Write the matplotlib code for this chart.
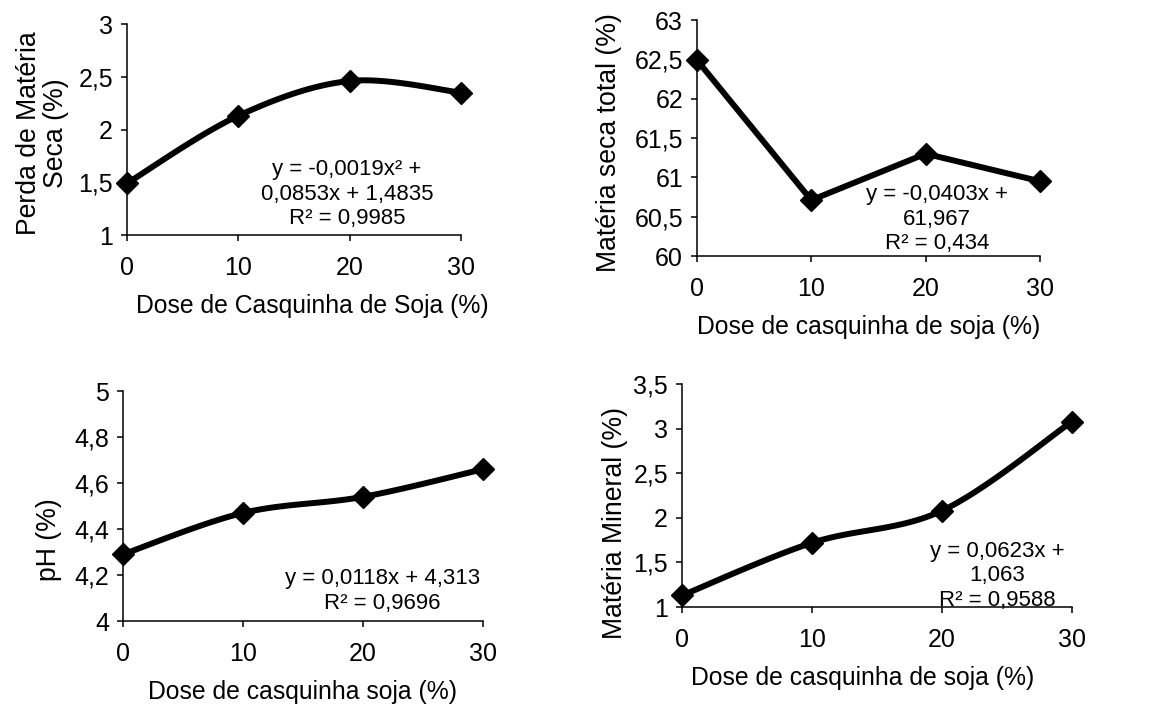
import numpy as np
import matplotlib
matplotlib.use("Agg")
import matplotlib.pyplot as plt

plt.rcParams['font.family'] = ['Liberation Sans', 'DejaVu Sans']

# dose of soybean hulls (%), shared by all four panels
DOSE = [0, 10, 20, 30]

PERDA_MS = [1.49, 2.13, 2.46, 2.35]
MS_TOTAL = [62.49, 60.71, 61.30, 60.95]
PH = [4.29, 4.47, 4.54, 4.66]
MAT_MINERAL = [1.13, 1.72, 2.08, 3.08]

PERDA_TICKS = [1, 1.5, 2, 2.5, 3]
MS_TICKS = [60, 60.5, 61, 61.5, 62, 62.5, 63]
PH_TICKS = [4, 4.2, 4.4, 4.6, 4.8, 5]
MM_TICKS = [1, 1.5, 2, 2.5, 3, 3.5]
X_TICKS = [0, 10, 20, 30]

EQ_PERDA = "y = -0,0019x² +\n0,0853x + 1,4835\nR² = 0,9985"
EQ_MS = "y = -0,0403x +\n61,967\nR² = 0,434"
EQ_PH = "y = 0,0118x + 4,313\nR² = 0,9696"
EQ_MM = "y = 0,0623x +\n1,063\nR² = 0,9588"


def SmoothLine(x, y, n=40):
    # Excel style smoothed line: cubic bezier with Catmull-Rom control points
    x = np.asarray(x, float)
    y = np.asarray(y, float)
    px = np.concatenate([[x[0]], x, [x[-1]]])
    py = np.concatenate([[y[0]], y, [y[-1]]])
    t = np.linspace(0, 1, n)[:, None]
    xs, ys = [], []
    for i in range(1, len(px) - 2):
        p0 = np.array([px[i], py[i]])
        p3 = np.array([px[i + 1], py[i + 1]])
        c1 = p0 + (np.array([px[i + 1], py[i + 1]]) - np.array([px[i - 1], py[i - 1]])) / 6
        c2 = p3 - (np.array([px[i + 2], py[i + 2]]) - np.array([px[i], py[i]])) / 6
        pts = (1 - t)**3 * p0 + 3 * (1 - t)**2 * t * c1 + 3 * (1 - t) * t**2 * c2 + t**3 * p3
        xs.append(pts[:, 0])
        ys.append(pts[:, 1])
    return np.concatenate(xs), np.concatenate(ys)


def Fmt(v):
    return ("%g" % v).replace(".", ",")


def Panel(fig, rect, y, yticks, smooth, xlabel, ylabel, eq, eq_xy, xlab_x, ylab_y, ylab_pad):
    ax = fig.add_axes(rect)
    if smooth:
        sx, sy = SmoothLine(DOSE, y)
        ax.plot(sx, sy, color='black', lw=4.3, solid_capstyle='round', clip_on=False)
    else:
        ax.plot(DOSE, y, color='black', lw=4.3, solid_joinstyle='miter', clip_on=False)
    ax.plot(DOSE, y, ls='none', marker='D', ms=11, color='black', clip_on=False, zorder=5)
    ax.set_xlim(0, 30)
    ax.set_ylim(yticks[0], yticks[-1])
    ax.set_xticks(X_TICKS)
    ax.set_xticklabels([str(v) for v in X_TICKS])
    ax.set_yticks(yticks)
    ax.set_yticklabels([Fmt(v) for v in yticks])
    for s in ['top', 'right']:
        ax.spines[s].set_visible(False)
    for s in ['left', 'bottom']:
        ax.spines[s].set_linewidth(1.1)
    ax.tick_params(axis='x', direction='out', length=4, width=1.1, pad=11, labelsize=18)
    ax.tick_params(axis='y', direction='out', length=4, width=1.1, pad=6, labelsize=18)
    ax.set_xlabel(xlabel, fontsize=17.8, labelpad=10)
    ax.xaxis.label.set_x(xlab_x)
    ax.set_ylabel(ylabel, fontsize=19.2, labelpad=ylab_pad, linespacing=1.05)
    ax.yaxis.label.set_y(ylab_y)
    ax.text(eq_xy[0], eq_xy[1], eq, transform=ax.transAxes, ha='center', va='center',
            fontsize=16, linespacing=1.22, multialignment='center', zorder=6)
    return ax


fig = plt.figure(figsize=(11.7, 7.07), dpi=100)

Panel(fig, [0.1085, 0.6676, 0.2855, 0.2984], PERDA_MS, PERDA_TICKS, True,
      "Dose de Casquinha de Soja (%)", "Perda de Matéria\nSeca (%)",
      EQ_PERDA, (0.659, 0.194), 0.554, 0.483, 7)
Panel(fig, [0.5957, 0.6379, 0.2932, 0.3338], MS_TOTAL, MS_TICKS, False,
      "Dose de casquinha de soja (%)", "Matéria seca total (%)",
      EQ_MS, (0.70, 0.155), 0.5, 0.481, 9)
Panel(fig, [0.1051, 0.1216, 0.3077, 0.3253], PH, PH_TICKS, True,
      "Dose de casquinha soja (%)", "pH (%)",
      EQ_PH, (0.72, 0.13), 0.5, 0.352, 9)
Panel(fig, [0.5829, 0.1414, 0.3333, 0.3154], MAT_MINERAL, MM_TICKS, True,
      "Dose de casquinha de soja (%)", "Matéria Mineral (%)",
      EQ_MM, (0.808, 0.14), 0.464, 0.379, 4)

fig.savefig("out.png", dpi=100)
